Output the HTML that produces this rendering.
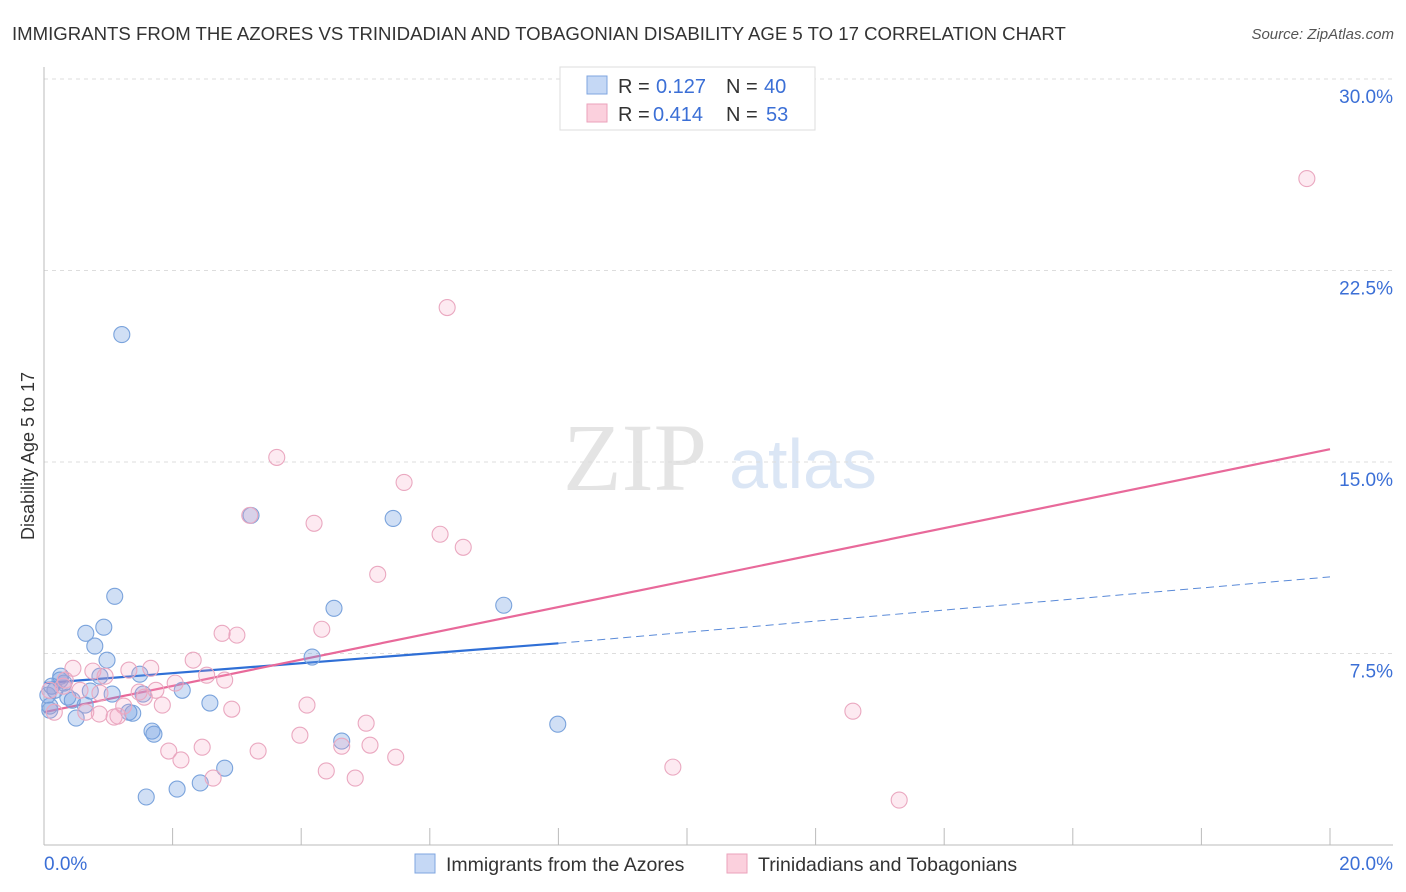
<!DOCTYPE html>
<html><head><meta charset="utf-8">
<style>
body{margin:0;background:#fff;font-family:"Liberation Sans",sans-serif;}
#wrap{position:relative;width:1406px;height:892px;overflow:hidden;}
</style></head>
<body>
<div id="wrap">
<svg id="svg" width="1406" height="892" xmlns="http://www.w3.org/2000/svg">
<text x="12" y="40" font-size="18.6" fill="#333">IMMIGRANTS FROM THE AZORES VS TRINIDADIAN AND TOBAGONIAN DISABILITY AGE 5 TO 17 CORRELATION CHART</text>
<text x="1394" y="39" font-size="15" fill="#555" font-style="italic" text-anchor="end">Source: ZipAtlas.com</text>
<text x="34" y="456" font-size="18" fill="#333" text-anchor="middle" transform="rotate(-90 34 456)">Disability Age 5 to 17</text>
<g>
<text x="635" y="490" font-size="96" fill="#e4e4e4" font-family="Liberation Serif,serif" text-anchor="middle">ZIP</text>
<text x="803" y="488" font-size="70" fill="#dbe6f5" text-anchor="middle">atlas</text>
</g>
<g id="grid"></g>
<g id="axes"></g>
<g id="lines"></g>
<g id="pts"></g>
<g>
<rect x="560" y="67" width="255" height="63" fill="#fff" stroke="#ddd"/>
<rect x="587" y="76" width="20" height="18" fill="#c5d8f5" stroke="#7fa6e0"/>
<rect x="587" y="104" width="20" height="18" fill="#fbd0dd" stroke="#eba2bb"/>
<text x="618" y="93" font-size="20" fill="#333">R = </text><text x="656" y="93" font-size="20" fill="#3b6fd6">0.127</text>
<text x="726" y="93" font-size="20" fill="#333">N = </text><text x="764" y="93" font-size="20" fill="#3b6fd6">40</text>
<text x="618" y="121" font-size="20" fill="#333">R = </text><text x="653" y="121" font-size="20" fill="#3b6fd6">0.414</text>
<text x="726" y="121" font-size="20" fill="#333">N = </text><text x="766" y="121" font-size="20" fill="#3b6fd6">53</text>
</g>
<g>
<rect x="415" y="854" width="20" height="19" fill="#c5d8f5" stroke="#7fa6e0"/>
<text x="446" y="871" font-size="19.5" fill="#333">Immigrants from the Azores</text>
<rect x="727" y="854" width="20" height="19" fill="#fbd0dd" stroke="#eba2bb"/>
<text x="758" y="871" font-size="19.5" fill="#333">Trinidadians and Tobagonians</text>
</g>
</svg>
</div>
<script>
const yTicks=[7.5,15,22.5,30];
const yTickLabels=["7.5%","15.0%","22.5%","30.0%"];
const xTicks=[0,2,4,6,8,10,12,14,16,18,20];
const xEndLabels=["0.0%","20.0%"];
const blueX=[1.21,1.10,0.93,0.65,0.79,0.98,0.26,0.12,0.31,0.72,1.06,1.49,1.54,2.15,2.58,1.32,1.38,0.50,0.44,0.09,0.09,1.68,1.71,3.22,5.43,4.51,4.17,4.63,7.15,7.99,2.81,2.43,2.07,1.59,0.25,0.17,0.64,0.37,0.87,0.06];
const blueY=[19.99,9.74,8.53,8.29,7.79,7.24,6.61,6.22,6.34,6.03,5.91,6.69,5.91,6.06,5.56,5.20,5.16,4.97,5.67,5.44,5.28,4.46,4.34,12.91,12.79,9.27,7.36,4.07,9.39,4.73,3.01,2.43,2.19,1.88,6.46,6.06,5.48,5.79,6.61,5.87];
const pinkX=[19.64,6.27,3.62,5.60,3.20,4.20,6.16,6.52,5.19,4.32,2.77,3.00,2.32,1.66,1.32,0.45,0.76,0.95,2.53,2.81,2.04,1.74,1.48,0.56,0.30,0.87,1.56,1.84,4.09,2.92,1.24,0.65,0.16,0.86,1.09,1.15,5.01,3.98,2.46,1.94,2.13,4.63,5.07,3.33,5.47,4.39,4.84,2.63,9.78,12.58,13.30,0.09,0.33];
const pinkY=[26.10,21.05,15.18,14.20,12.91,12.60,12.17,11.66,10.60,8.45,8.29,8.22,7.24,6.92,6.85,6.92,6.81,6.61,6.65,6.46,6.34,6.06,5.99,6.06,6.22,5.95,5.79,5.48,5.48,5.32,5.44,5.20,5.20,5.13,5.01,5.05,4.77,4.30,3.83,3.68,3.33,3.87,3.91,3.68,3.44,2.90,2.62,2.62,3.05,5.24,1.76,6.06,6.46];
const blueTrend=[6.34,7.9,10.5]; // at x=0, 8, 20
const pinkTrend=[5.2,15.5]; // at x=0, 20
const X0=44,X1=1330,Y0=845,Y30=79;
const sx=v=>X0+(X1-X0)*v/20;
const sy=v=>Y0-(Y0-Y30)*v/30;
const NS="http://www.w3.org/2000/svg";
function mk(tag,attrs,parent){const e=document.createElementNS(NS,tag);for(const k in attrs)e.setAttribute(k,attrs[k]);document.getElementById(parent).appendChild(e);return e;}
yTicks.forEach((t,i)=>{
 const g=mk('line',{x1:44,x2:1393,y1:sy(t),y2:sy(t),stroke:'#ddd','stroke-dasharray':'4 4'},'grid');
 
 
 const l=mk('text',{x:1393,y:sy(t)+24,'font-size':19,fill:'#3b6fd6','text-anchor':'end'},'grid');
 l.textContent=yTickLabels[i];
 
 
});
const ax1=mk('line',{x1:44,x2:44,y1:67,y2:845,stroke:'#bbb'},'axes');


const ax2=mk('line',{x1:44,x2:1393,y1:845,y2:845,stroke:'#bbb'},'axes');


xTicks.forEach(t=>{
 const tk=mk('line',{x1:sx(t),x2:sx(t),y1:828,y2:845,stroke:'#bbb'},'axes');
 
 
});
const xl0=mk('text',{x:44,y:870,'font-size':19,fill:'#3b6fd6'},'axes');xl0.textContent=xEndLabels[0];


const xl1=mk('text',{x:1393,y:870,'font-size':19,fill:'#3b6fd6','text-anchor':'end'},'axes');xl1.textContent=xEndLabels[1];


blueX.forEach((x,i)=>{
 const c=mk('circle',{cx:sx(x),cy:sy(blueY[i]),r:8,fill:'rgba(110,155,225,0.32)',stroke:'#7aa3dc','stroke-width':1.1},'pts');
 
 
});
pinkX.forEach((x,i)=>{
 const c=mk('circle',{cx:sx(x),cy:sy(pinkY[i]),r:8,fill:'rgba(245,160,190,0.22)',stroke:'#eaa8c0','stroke-width':1.1},'pts');
 
 
});
const bl=mk('line',{x1:sx(0),y1:sy(blueTrend[0]),x2:sx(8),y2:sy(blueTrend[1]),stroke:'#2f6fd6','stroke-width':2.2},'lines');


const bd=mk('line',{x1:sx(8),y1:sy(blueTrend[1]),x2:sx(20),y2:sy(blueTrend[2]),stroke:'#5a8ad8','stroke-width':1,'stroke-dasharray':'8 5'},'lines');


const pl=mk('line',{x1:sx(0),y1:sy(pinkTrend[0]),x2:sx(20),y2:sy(pinkTrend[1]),stroke:'#e8699a','stroke-width':2.2},'lines');


</script>
</body></html>
